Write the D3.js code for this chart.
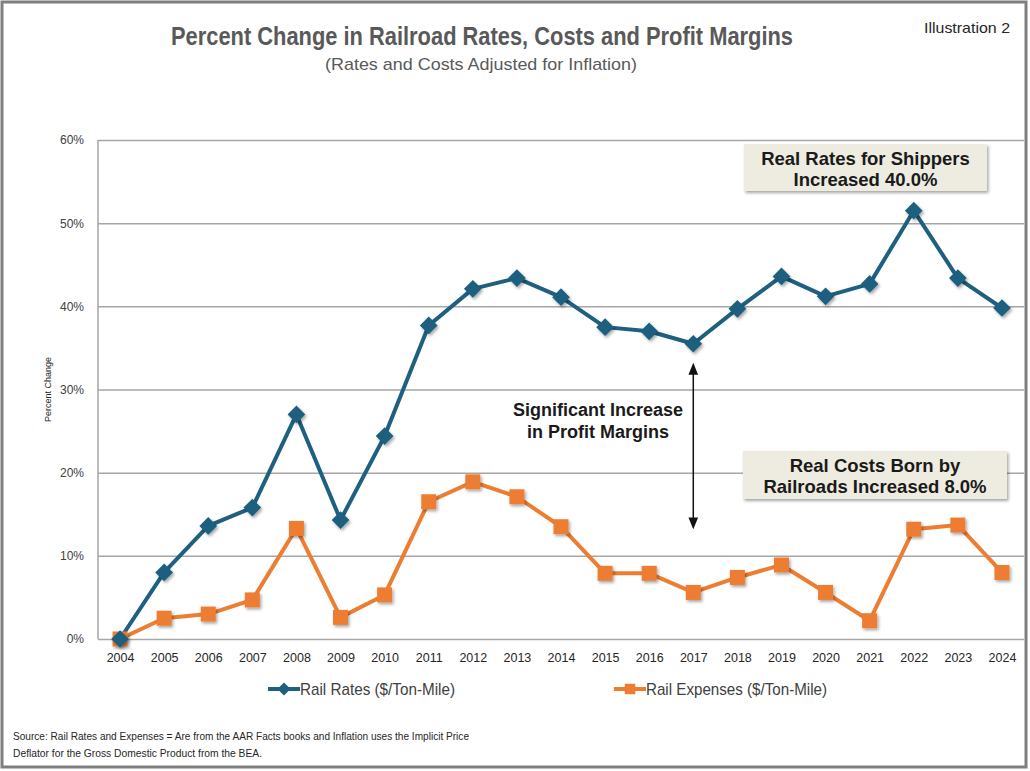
<!DOCTYPE html>
<html>
<head>
<meta charset="utf-8">
<script src="https://cdn.jsdelivr.net/npm/d3@7"></script>
<style>
  body { margin: 0; background: #fff; }
  svg { display: block; }
</style>
</head>
<body>
<svg id="chart" width="1030" height="771"></svg>
<script>
// data
const years = ['2004', '2005', '2006', '2007', '2008', '2009', '2010', '2011', '2012', '2013', '2014',
  '2015', '2016', '2017', '2018', '2019', '2020', '2021', '2022', '2023', '2024']
const railRates = [0, 8.0, 13.6, 15.8, 27.0, 14.3, 24.4, 37.7, 42.1, 43.4, 41.1,
  37.5, 37.0, 35.5, 39.7, 43.6, 41.2, 42.7, 51.5, 43.4, 39.8]
const railExpenses = [0, 2.5, 3.0, 4.7, 13.3, 2.6, 5.3, 16.5, 18.9, 17.1, 13.5,
  7.9, 7.9, 5.6, 7.4, 8.9, 5.6, 2.2, 13.2, 13.7, 8.0]
const yTicks = [0, 10, 20, 30, 40, 50, 60]
const seriesNames = ['Rail Rates ($/Ton-Mile)', 'Rail Expenses ($/Ton-Mile)']

const BLUE = '#1f5f7f'
const ORANGE = '#ed7d31'
const sans = '"Liberation Sans", Arial, sans-serif'

const svg = d3.select('#chart')
const plotL = 98, plotR = 1024, plotT = 140, plotB = 639

const x = d3.scalePoint().domain(years).range([plotL, plotR]).padding(0.5)
const y = d3.scaleLinear().domain([0, 60]).range([plotB, plotT])

// drop shadow for markers and callouts
const defs = svg.append('defs')
const shadow = defs.append('filter').attr('id', 'shadow')
  .attr('x', '-30%').attr('y', '-30%').attr('width', '160%').attr('height', '160%')
shadow.append('feDropShadow').attr('dx', 1.5).attr('dy', 2).attr('stdDeviation', 1.5)
  .attr('flood-color', '#000').attr('flood-opacity', 0.35)
defs.append('marker').attr('id', 'arrowEnd')
  .attr('viewBox', '0 0 10 10').attr('refX', 5).attr('refY', 5)
  .attr('markerWidth', 8).attr('markerHeight', 8).attr('orient', 'auto-start-reverse')
  .append('path').attr('d', 'M0,1 L10,5 L0,9 z').attr('fill', '#111')

// outer frame
svg.append('rect').attr('x', 2).attr('y', 2).attr('width', 1024).attr('height', 765)
  .attr('fill', '#fff').attr('stroke', '#7f7f7f').attr('stroke-width', 3)

// condensed-looking text: squeeze to the width measured on the reference
function narrowText (sel, width) {
  return sel.attr('textLength', width).attr('lengthAdjust', 'spacingAndGlyphs')
}

// titles
narrowText(svg.append('text').attr('x', 482).attr('y', 45).attr('text-anchor', 'middle')
  .attr('font-family', sans).attr('font-weight', 'bold').attr('font-size', 25)
  .attr('fill', '#595959').text('Percent Change in Railroad Rates, Costs and Profit Margins'), 622)
narrowText(svg.append('text').attr('x', 481).attr('y', 70).attr('text-anchor', 'middle')
  .attr('font-family', sans).attr('font-size', 17)
  .attr('fill', '#595959').text('(Rates and Costs Adjusted for Inflation)'), 312)
narrowText(svg.append('text').attr('x', 1010).attr('y', 33).attr('text-anchor', 'end')
  .attr('font-family', sans).attr('font-size', 15)
  .attr('fill', '#262626').text('Illustration 2'), 86)

// y grid + labels
const yAxis = d3.axisLeft(y).tickValues(yTicks).tickFormat(d => d + '%')
  .tickSize(-(plotR - plotL)).tickPadding(14)
const yg = svg.append('g').attr('transform', `translate(${plotL},0)`).call(yAxis)
yg.select('.domain').remove()
yg.selectAll('line').attr('stroke', '#a6a6a6').attr('stroke-width', 1.5)
yg.selectAll('text').attr('font-family', sans).attr('font-size', 12).attr('fill', '#404040')
svg.append('line').attr('x1', plotL).attr('x2', plotL).attr('y1', plotT).attr('y2', plotB)
  .attr('stroke', '#a6a6a6').attr('stroke-width', 1.5)

svg.append('text').attr('transform', `translate(51,${(plotT + plotB) / 2}) rotate(-90)`)
  .attr('text-anchor', 'middle').attr('font-family', sans).attr('font-size', 9)
  .attr('fill', '#262626').text('Percent Change')

// x labels
const xAxis = d3.axisBottom(x).tickSize(0).tickPadding(14)
const xg = svg.append('g').attr('transform', `translate(0,${plotB})`).call(xAxis)
xg.select('.domain').remove()
xg.selectAll('text').attr('font-family', sans).attr('font-size', 12.5).attr('fill', '#262626')

// annotations
const arrowX = x('2017')
svg.append('line').attr('x1', arrowX).attr('x2', arrowX).attr('y1', y(32.5)).attr('y2', y(13.9))
  .attr('stroke', '#111').attr('stroke-width', 1.5)
  .attr('marker-start', 'url(#arrowEnd)').attr('marker-end', 'url(#arrowEnd)')
const sig = svg.append('text').attr('text-anchor', 'middle').attr('font-family', sans)
  .attr('font-weight', 'bold').attr('font-size', 18).attr('fill', '#1a1a1a')
sig.append('tspan').attr('x', 598).attr('y', 416).text('Significant Increase')
sig.append('tspan').attr('x', 598).attr('y', 438).text('in Profit Margins')

function callout (x0, y0, w, h, lines) {
  svg.append('rect').attr('x', x0).attr('y', y0).attr('width', w).attr('height', h)
    .attr('fill', '#eeece1').attr('filter', 'url(#shadow)')
  const t = svg.append('text').attr('text-anchor', 'middle').attr('font-family', sans)
    .attr('font-weight', 'bold').attr('font-size', 18.5).attr('fill', '#1a1a1a')
  lines.forEach((s, i) => {
    t.append('tspan').attr('x', x0 + w / 2).attr('y', y0 + 21 + i * 21).text(s)
  })
}
callout(744, 144, 243, 47, ['Real Rates for Shippers', 'Increased 40.0%'])
callout(743, 451, 264, 48, ['Real Costs Born by', 'Railroads Increased 8.0%'])

// series
const line = d3.line().x((d, i) => x(years[i])).y(d => y(d))
svg.append('path').datum(railExpenses).attr('d', line).attr('fill', 'none')
  .attr('stroke', ORANGE).attr('stroke-width', 4).attr('stroke-linejoin', 'round')
svg.append('path').datum(railRates).attr('d', line).attr('fill', 'none')
  .attr('stroke', BLUE).attr('stroke-width', 4).attr('stroke-linejoin', 'round')

const diamond = d3.symbol().type(d3.symbolDiamond2).size(200)
const square = d3.symbol().type(d3.symbolSquare).size(225)

svg.append('g').attr('filter', 'url(#shadow)').selectAll('path')
  .data(railExpenses).join('path')
  .attr('transform', (d, i) => `translate(${x(years[i])},${y(d)})`)
  .attr('d', square).attr('fill', ORANGE)
svg.append('g').attr('filter', 'url(#shadow)').selectAll('path')
  .data(railRates).join('path')
  .attr('transform', (d, i) => `translate(${x(years[i])},${y(d)})`)
  .attr('d', diamond).attr('fill', BLUE)

// legend
const legend = [
  { name: seriesNames[0], color: BLUE, type: d3.symbolDiamond2, x: 268, w: 155 },
  { name: seriesNames[1], color: ORANGE, type: d3.symbolSquare, x: 614, w: 181 }
]
legend.forEach(l => {
  const g = svg.append('g').attr('transform', `translate(${l.x},689)`)
  g.append('line').attr('x1', 0).attr('x2', 32).attr('stroke', l.color).attr('stroke-width', 4)
  g.append('path').attr('transform', 'translate(16,0)')
    .attr('d', d3.symbol().type(l.type).size(110))
    .attr('fill', l.color)
  narrowText(g.append('text').attr('x', 32).attr('y', 6).attr('font-family', sans).attr('font-size', 17)
    .attr('fill', '#404040').text(l.name), l.w)
})

// source note
narrowText(svg.append('text').attr('x', 13).attr('y', 740).attr('font-family', sans)
  .attr('font-size', 11).attr('fill', '#262626')
  .text('Source: Rail Rates and Expenses = Are from the AAR Facts books and Inflation uses the Implicit Price'), 456)
narrowText(svg.append('text').attr('x', 13).attr('y', 757).attr('font-family', sans)
  .attr('font-size', 11).attr('fill', '#262626')
  .text('Deflator for the Gross Domestic Product from the BEA.'), 249)
</script>
</body>
</html>
